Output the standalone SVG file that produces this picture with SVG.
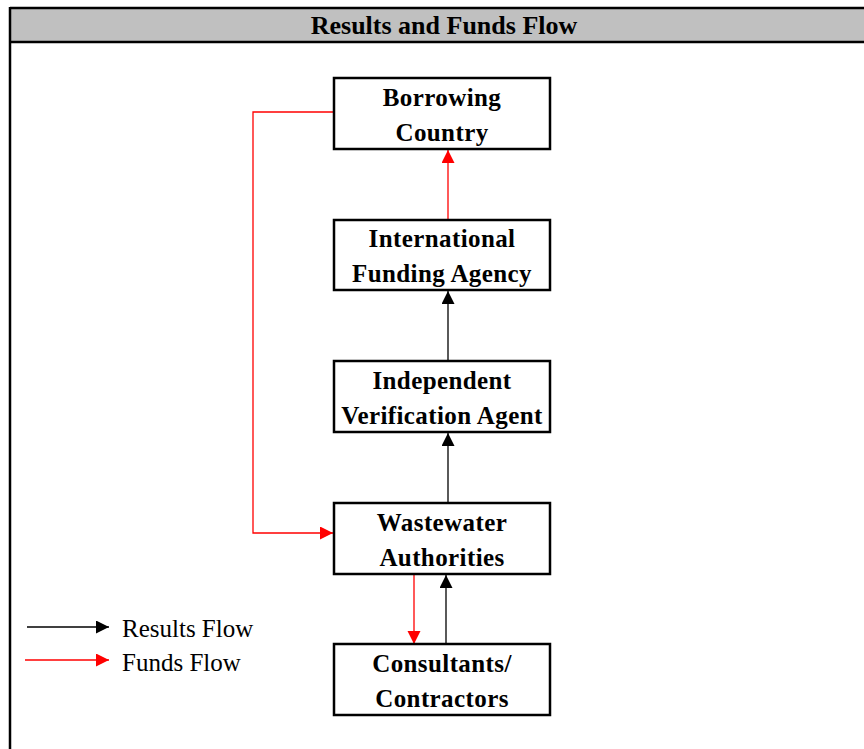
<svg xmlns="http://www.w3.org/2000/svg" width="864" height="749" viewBox="0 0 864 749">
  <style>
    .frame { fill: none; stroke: #000; stroke-width: 2.5; }
    .title { font-family: "Liberation Serif", "Times New Roman", serif; font-weight: bold; font-size: 26px; text-anchor: middle; fill: #000; }
    .box { fill: #fff; stroke: #000; stroke-width: 2.5; }
    .label { font-family: "Liberation Serif", "Times New Roman", serif; font-weight: bold; font-size: 25px; letter-spacing: 0.4px; text-anchor: middle; fill: #000; }
    .legend { font-family: "Liberation Serif", "Times New Roman", serif; font-size: 25px; fill: #000; }
    .res { fill: none; stroke: #000; stroke-width: 1.3; }
    .fund { fill: none; stroke: #ff0000; stroke-width: 1.3; }
  </style>
  <defs>
    <marker id="arrowBlack" markerUnits="userSpaceOnUse" markerWidth="14" markerHeight="14" refX="13" refY="6.5" orient="auto">
      <path d="M0,0 L13,6.5 L0,13 Z" fill="#000"/>
    </marker>
    <marker id="arrowRed" markerUnits="userSpaceOnUse" markerWidth="14" markerHeight="14" refX="13" refY="6.5" orient="auto">
      <path d="M0,0 L13,6.5 L0,13 Z" fill="#ff0000"/>
    </marker>
  </defs>

  <rect width="864" height="749" fill="#fff"/>

  <!-- header bar and outer frame -->
  <g id="header">
    <rect x="10" y="8" width="870" height="34" fill="#c0c0c0"/>
    <line x1="10" y1="8" x2="864" y2="8" class="frame"/>
    <line x1="10" y1="42" x2="864" y2="42" class="frame"/>
    <line x1="10" y1="7" x2="10" y2="749" class="frame"/>
    <text x="444" y="34" class="title">Results and Funds Flow</text>
  </g>

  <!-- connectors -->
  <g id="connectors">
    <line x1="448" y1="220" x2="448" y2="150" class="fund" marker-end="url(#arrowRed)"/>
    <line x1="448" y1="361" x2="448" y2="291" class="res" marker-end="url(#arrowBlack)"/>
    <line x1="448" y1="503" x2="448" y2="433" class="res" marker-end="url(#arrowBlack)"/>
    <polyline points="334,112 253,112 253,533 333,533" class="fund" marker-end="url(#arrowRed)"/>
    <line x1="414" y1="574" x2="414" y2="644" class="fund" marker-end="url(#arrowRed)"/>
    <line x1="446" y1="644" x2="446" y2="575" class="res" marker-end="url(#arrowBlack)"/>
  </g>

  <g id="borrowing-country">
    <rect x="334" y="78" width="216" height="71" class="box"/>
    <text x="442" y="106" class="label">Borrowing</text>
    <text x="442" y="141" class="label">Country</text>
  </g>

  <g id="international-funding-agency">
    <rect x="334" y="220" width="216" height="70" class="box"/>
    <text x="442" y="247" class="label">International</text>
    <text x="442" y="282" class="label">Funding Agency</text>
  </g>

  <g id="independent-verification-agent">
    <rect x="334" y="361" width="216" height="71" class="box"/>
    <text x="442" y="389" class="label">Independent</text>
    <text x="442" y="424" class="label">Verification Agent</text>
  </g>

  <g id="wastewater-authorities">
    <rect x="334" y="503" width="216" height="71" class="box"/>
    <text x="442" y="531" class="label">Wastewater</text>
    <text x="442" y="566" class="label">Authorities</text>
  </g>

  <g id="consultants-contractors">
    <rect x="334" y="644" width="216" height="71" class="box"/>
    <text x="442" y="672" class="label">Consultants/</text>
    <text x="442" y="707" class="label">Contractors</text>
  </g>

  <!-- legend -->
  <g id="legend">
    <line x1="27" y1="627" x2="109" y2="627" class="res" marker-end="url(#arrowBlack)"/>
    <text x="122" y="637" class="legend">Results Flow</text>
    <line x1="25" y1="660" x2="109" y2="660" class="fund" marker-end="url(#arrowRed)"/>
    <text x="122" y="671" class="legend">Funds Flow</text>
  </g>
</svg>
